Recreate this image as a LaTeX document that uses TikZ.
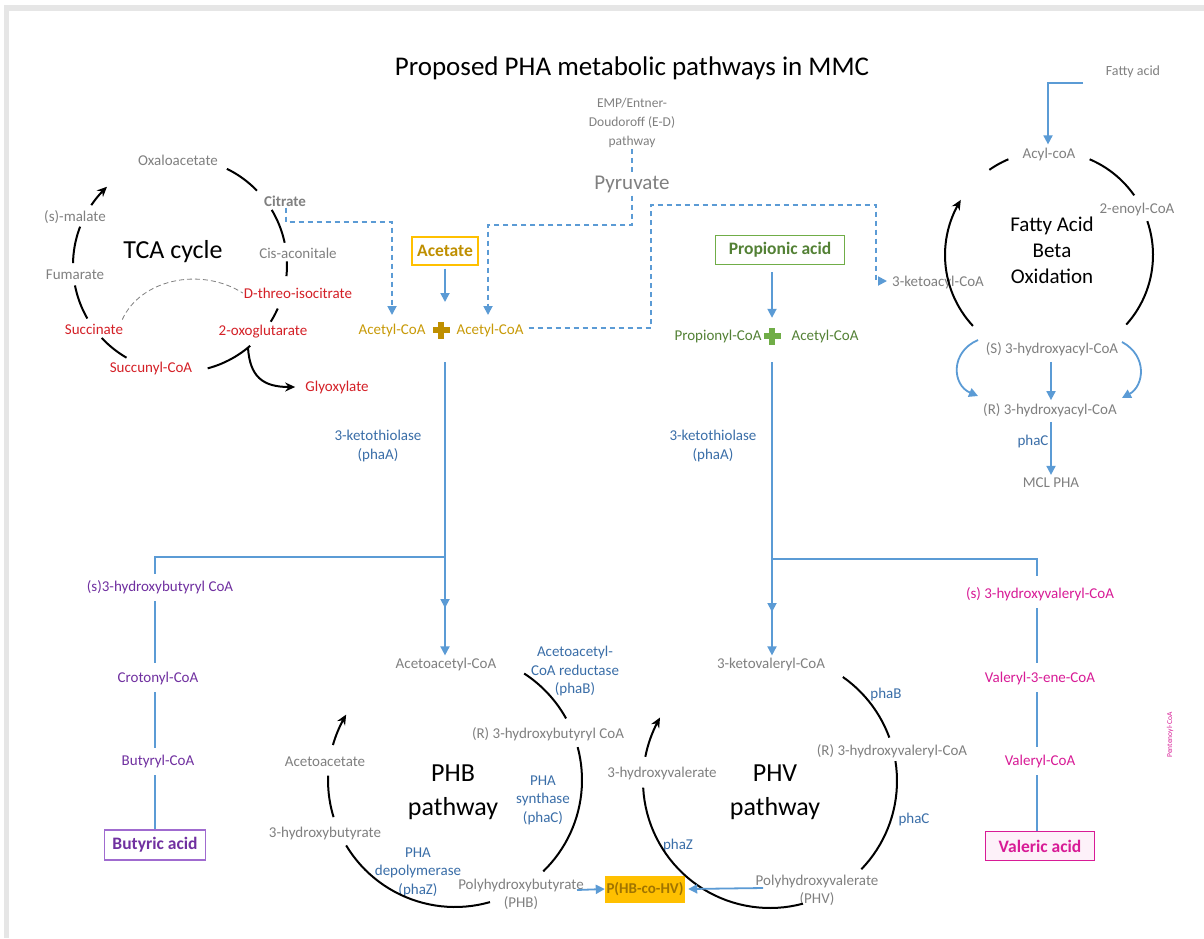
\documentclass[tikz,border=0pt]{standalone}
\usepackage{fontspec}
\setmainfont{Carlito}
\usetikzlibrary{arrows.meta}
\definecolor{txtgray}{HTML}{808080}
\definecolor{tcared}{HTML}{D42027}
\definecolor{enzblue}{HTML}{3A6EA8}
\definecolor{arrblue}{HTML}{5B9BD5}
\definecolor{goldtxt}{HTML}{C89A08}
\definecolor{acettxt}{HTML}{BF8F00}
\definecolor{goldbox}{HTML}{FFC000}
\definecolor{grntxt}{HTML}{538135}
\definecolor{grnbox}{HTML}{70AD47}
\definecolor{purp}{HTML}{7030A0}
\definecolor{purpbox}{HTML}{A06BCF}
\definecolor{mag}{HTML}{D81B96}
\definecolor{phbtxt}{HTML}{A07400}
\definecolor{framegray}{HTML}{E6E6E6}
\begin{document}
\begin{tikzpicture}[x=1pt,y=-1pt,
  lbl/.style={font=\fontsize{15}{18}\selectfont, text=txtgray, inner sep=1pt, align=center},
  enz/.style={font=\fontsize{15}{18.5}\selectfont, text=enzblue, inner sep=1pt, align=center},
  rlbl/.style={lbl, text=tcared},
  glbl/.style={lbl, text=goldtxt},
  grlbl/.style={lbl, text=grntxt},
  plbl/.style={lbl, text=purp},
  mlbl/.style={lbl, text=mag},
  big/.style={font=\fontsize{26}{34}\selectfont, text=black, align=center, inner sep=0pt},
  acidbox/.style={font=\bfseries\fontsize{17.5}{20}\selectfont, inner sep=0pt, line width=1.3pt},
  barrow/.style={draw=arrblue, line width=1.8pt, -{Triangle[length=9pt,width=9pt]}},
  bline/.style={draw=arrblue, line width=1.8pt},
  dline/.style={draw=arrblue, line width=1.8pt, dash pattern=on 5pt off 4pt},
  dlarrow/.style={dline, -{Triangle[length=9pt,width=9pt]}},
  karc/.style={draw=black, line width=2pt},
  karrow/.style={karc, -{Stealth[length=10pt,width=9pt]}},
  plusfill/.style={fill=#1, draw=none}
]
\useasboundingbox (0,0) rectangle (1204,938);
\fill[white] (0,0) rectangle (1204,938);
\fill[framegray] (4,5) rectangle (1204,11);
\fill[framegray] (4,5) rectangle (9,938);

% ---------- title ----------
\node[font=\fontsize{27}{32}\selectfont, inner sep=0pt] (title) at (632,68) {Proposed PHA metabolic pathways in MMC};

% ---------- TCA cycle ----------
\node[lbl] (oxal) at (178,160) {Oxaloacetate};
\node[lbl, font=\bfseries\fontsize{15}{18}\selectfont] (citrate) at (285,201) {Citrate};
\node[lbl] (cis) at (298,253) {Cis-aconitale};
\node[rlbl] (dthreo) at (298,293) {D-threo-isocitrate};
\node[rlbl] (oxo) at (263,332) {2-oxoglutarate};
\node[rlbl] (succoa) at (151,368) {Succunyl-CoA};
\node[rlbl] (succ) at (94,329) {Succinate};
\node[lbl] (fum) at (75,275) {Fumarate};
\node[lbl] (mal) at (75,217) {(s)-malate};
\node[big] (tca) at (173,252) {TCA cycle};
\node[rlbl] (glyox) at (337,387) {Glyoxylate};

\draw[karc] plot[domain=-64:-44,samples=12] ({180+107*cos(\x)},{265+107*sin(\x)});
\draw[karc] plot[domain=-31:-12,samples=12] ({180+107*cos(\x)},{265+107*sin(\x)});
\draw[karc] plot[domain=-2:6,samples=6] ({180+107*cos(\x)},{265+107*sin(\x)});
\draw[karc] plot[domain=24:32,samples=6] ({180+107*cos(\x)},{265+107*sin(\x)});
\draw[karc] plot[domain=49:75,samples=14] ({180+107*cos(\x)},{265+107*sin(\x)});
\draw[karc] plot[domain=120:137,samples=10] ({180+107*cos(\x)},{265+107*sin(\x)});
\draw[karc] plot[domain=150:169,samples=10] ({180+107*cos(\x)},{265+107*sin(\x)});
\draw[karc] plot[domain=181:201,samples=10] ({180+107*cos(\x)},{265+107*sin(\x)});
\draw[karrow] plot[domain=214:227,samples=8] ({180+107*cos(\x)},{265+107*sin(\x)});
\draw[txtgray, line width=0.8pt, dash pattern=on 5pt off 3pt] (succ.north east) ++(-2,-3) .. controls (140,280) and (200,266) .. (dthreo.west);
\coordinate (glyfork) at (248,348);
\draw[karrow] (glyfork) .. controls (250,376) and (262,387) .. ([xshift=-9pt]glyox.west);

% ---------- top centre ----------
\node[lbl, font=\fontsize{13.5}{19}\selectfont] (emp) at (632,123) {EMP/Entner-\\Doudoroff (E-D)\\pathway};
\node[lbl, font=\fontsize{21}{24}\selectfont] (pyr) at (632,184) {Pyruvate};
\draw[dline] (emp.south) -- (pyr.north);

\node[acidbox, draw=goldbox, text=acettxt, minimum width=66pt, minimum height=28pt] (acetate) at (445,251) {Acetate};
\node[acidbox, draw=grnbox, text=grntxt, minimum width=129pt, minimum height=29pt] (propionic) at (780,250) {Propionic acid};

\node[glbl] (acetylA) at (392,330) {Acetyl-CoA};
\node[inner sep=0pt, minimum size=16pt] (plusA) at (441,330) {};
\fill[plusfill=acettxt] ([xshift=-3pt,yshift=-8.5pt]plusA.center) rectangle ([xshift=3pt,yshift=8.5pt]plusA.center);
\fill[plusfill=acettxt] ([xshift=-8.5pt,yshift=-3pt]plusA.center) rectangle ([xshift=8.5pt,yshift=3pt]plusA.center);
\node[glbl] (acetylB) at (490,330) {Acetyl-CoA};

\node[grlbl] (propionyl) at (718,336) {Propionyl-CoA};
\node[inner sep=0pt, minimum size=16pt] (plusB) at (772,336) {};
\fill[plusfill=grnbox] ([xshift=-3pt,yshift=-8.5pt]plusB.center) rectangle ([xshift=3pt,yshift=8.5pt]plusB.center);
\fill[plusfill=grnbox] ([xshift=-8.5pt,yshift=-3pt]plusB.center) rectangle ([xshift=8.5pt,yshift=3pt]plusB.center);
\node[grlbl] (acetylC) at (825,336) {Acetyl-CoA};

\draw[barrow] ([yshift=-3pt]acetate.south) -- (445,302);
\coordinate (propstart) at (772,272);
\draw[barrow] (propstart) -- ([yshift=10pt]plusB.north);

\draw[dlarrow] ([yshift=-2pt]pyr.south) -- (632,225) -- (488,225) -- (488,315);
\draw[dlarrow] ([xshift=1pt]citrate.south) -- (286,222) -- (392,222) -- (392,315);
\coordinate (ketoturn) at (876,281);
\draw[dlarrow] (acetylB.east) ++(4,-2) -- (651,328) -- (651,205) -- (876,205) -- (ketoturn) -- (887,281);

% ---------- Fatty acid beta oxidation ----------
\node[lbl, font=\fontsize{14}{17}\selectfont] (fatty) at (1133,72) {Fatty acid};
\node[lbl] (acyl) at (1049,154) {Acyl-coA};
\node[lbl] (enoyl) at (1137,209) {2-enoyl-CoA};
\node[font=\fontsize{21}{26}\selectfont, align=center, inner sep=0pt] (fao) at (1052,250) {Fatty Acid\\Beta\\Oxidation};
\node[lbl] (ketoacyl) at (938,282) {3-ketoacyl-CoA};
\node[lbl] (shydroxy) at (1052,349) {(S) 3-hydroxyacyl-CoA};
\node[lbl] (rhydroxy) at (1050,410) {(R) 3-hydroxyacyl-CoA};
\node[enz] (phaCfa) at (1033,441) {phaC};
\node[lbl] (mcl) at (1051,483) {MCL PHA};

\coordinate (fattystart) at (1083,83);
\draw[barrow] (fattystart) -- (1048,83) -- ([yshift=2pt]acyl.north -| 1048,0);
\draw[karc] plot[domain=235:247,samples=8] ({1049+104*cos(\x)},{255+104*sin(\x)});
\draw[karc] plot[domain=293:325,samples=14] ({1049+104*cos(\x)},{255+104*sin(\x)});
\draw[karc] plot[domain=-19:42,samples=24] ({1049+104*cos(\x)},{255+104*sin(\x)});
\draw[karrow] plot[domain=137:212,samples=30] ({1049+104*cos(\x)},{255+104*sin(\x)});
\draw[barrow] (978,340) .. controls (950,352) and (952,385) .. (978,396);
\draw[barrow] (1122,342) .. controls (1148,356) and (1144,386) .. (1122,398);
\draw[barrow] ([yshift=-5pt]shydroxy.south -| 1051,0) -- ([yshift=2pt]rhydroxy.north -| 1051,0);
\draw[barrow] ([yshift=-4pt]rhydroxy.south -| 1051,0) -- ([yshift=2pt]mcl.north -| 1051,0);

% ---------- thiolase trunks ----------
\node[enz] (thiolA) at (378,446) {3-ketothiolase\\(phaA)};
\node[enz] (thiolB) at (713,446) {3-ketothiolase\\(phaA)};

\node[lbl] (acac) at (446,664) {Acetoacetyl-CoA};
\node[lbl] (ketoval) at (771,664) {3-ketovaleryl-CoA};

\coordinate (forkA) at (445,557);
\coordinate (forkB) at (772,559);
\draw[barrow] (445,362) -- ([yshift=1pt]acac.north -| forkA);
\draw[barrow] (forkA) -- (445,608);
\draw[barrow] (772,362) -- ([yshift=1pt]ketoval.north -| forkB);
\draw[barrow] (forkB) -- (772,612);

% ---------- butyric branch ----------
\node[plbl] (shb) at (160,587) {(s)3-hydroxybutyryl CoA};
\node[plbl] (croton) at (158,678) {Crotonyl-CoA};
\node[plbl] (butyryl) at (158,761) {Butyryl-CoA};
\node[acidbox, draw=purpbox, text=purp, minimum width=101pt, minimum height=30pt] (butyric) at (155,845) {Butyric acid};
\draw[bline] (forkA) -- (155,557) -- (155,574);
\draw[bline] (155,601) -- (155,663);
\draw[bline] (155,692) -- (155,748);
\draw[bline] (155,775) -- (butyric.north -| 155,0);

% ---------- valeric branch ----------
\node[mlbl] (shv) at (1040,594) {(s) 3-hydroxyvaleryl-CoA};
\node[mlbl] (valene) at (1040,678) {Valeryl-3-ene-CoA};
\node[mlbl] (valeryl) at (1040,761) {Valeryl-CoA};
\node[acidbox, draw=mag, line width=1.8pt, fill=mag!6, text=mag, minimum width=109pt, minimum height=29pt] (valeric) at (1040,846) {Valeric acid};
\draw[bline] (forkB) -- (1037,559) -- (1037,576);
\draw[bline] (1037,608) -- (1037,663);
\draw[bline] (1037,692) -- (1037,747);
\draw[bline] (1037,775) -- (valeric.north -| 1037,0);
\node[rotate=90, font=\fontsize{7.5}{9}\selectfont, text=mag, inner sep=0pt] (pent) at (1170,735) {Pentenoyl-CoA};

% ---------- PHB pathway ----------
\node[enz] (reduct) at (575,671) {Acetoacetyl-\\CoA reductase\\(phaB)};
\node[lbl] (rhb) at (548,734) {(R) 3-hydroxybutyryl CoA};
\node[big] (phb) at (453,792) {PHB\\pathway};
\node[enz] (synth) at (543,800) {PHA\\synthase\\(phaC)};
\node[lbl] (acetoac) at (325,762) {Acetoacetate};
\node[lbl] (hb) at (325,833) {3-hydroxybutyrate};
\node[enz] (depol) at (418,872) {PHA\\depolymerase\\(phaZ)};
\node[lbl] (polyhb) at (521,894) {Polyhydroxybutyrate\\(PHB)};
\node[fill=goldbox, text=phbtxt, font=\bfseries\fontsize{15}{18}\selectfont, minimum width=80pt, minimum height=27pt, inner sep=0pt] (phbhv) at (645,889) {P(HB-co-HV)};

\draw[karc] plot[domain=-57:-29,samples=14] ({455+127*cos(\x)},{780+127*sin(\x)});
\draw[karc] plot[domain=-15:46,samples=24] ({455+127*cos(\x)},{780+127*sin(\x)});
\draw[karc] plot[domain=74:149,samples=28] ({455+127*cos(\x)},{780+127*sin(\x)});
\draw[karc] plot[domain=163:182,samples=10] ({455+127*cos(\x)},{780+127*sin(\x)});
\draw[karrow] plot[domain=196:211,samples=10] ({455+127*cos(\x)},{780+127*sin(\x)});
\draw[barrow] (577,890) -- (phbhv.west);

% ---------- PHV pathway ----------
\node[enz] (phaBv) at (886,694) {phaB};
\node[lbl] (rhv) at (892,751) {(R) 3-hydroxyvaleryl-CoA};
\node[big] (phv) at (775,792) {PHV\\pathway};
\node[enz] (phaCv) at (914,819) {phaC};
\node[lbl] (hv) at (662,773) {3-hydroxyvalerate};
\node[enz] (phaZv) at (678,845) {phaZ};
\node[lbl] (polyhv) at (817,890) {Polyhydroxyvalerate\\(PHV)};

\draw[karc] plot[domain=-55:-20,samples=14] ({770+127*cos(\x)},{781+127*sin(\x)});
\draw[karc] plot[domain=-9:44,samples=20] ({770+127*cos(\x)},{781+127*sin(\x)});
\draw[karc] plot[domain=75:177,samples=36] ({770+127*cos(\x)},{781+127*sin(\x)});
\draw[karrow] plot[domain=191:210,samples=10] ({770+127*cos(\x)},{781+127*sin(\x)});
\draw[barrow] (763,888) -- ([xshift=3pt]phbhv.east);
\end{tikzpicture}
\end{document}
